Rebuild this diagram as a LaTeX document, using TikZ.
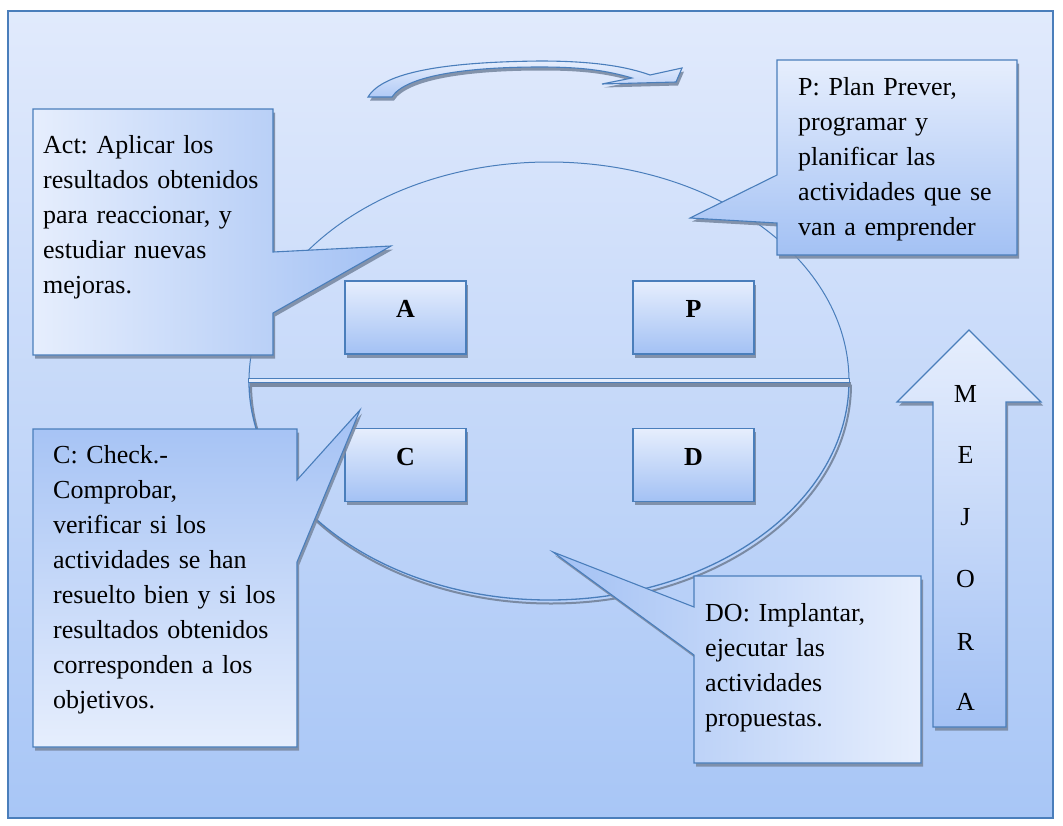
\documentclass[tikz,border=0pt]{standalone}
\usepackage{fontspec}
\setmainfont{Liberation Serif}
\usetikzlibrary{shadows}

\definecolor{bgtop}{HTML}{E1EAFC}
\definecolor{bgbot}{HTML}{A8C6F6}
\definecolor{edge}{HTML}{4A7EBB}
\definecolor{shadowgray}{HTML}{7A8AA3}
\definecolor{lite}{HTML}{E6EEFD}
\definecolor{deep}{HTML}{A3C1F4}

\tikzset{
  castshadow/.style={drop shadow={shadow xshift=2pt,shadow yshift=-3.5pt,fill=shadowgray,opacity=0.9}},
  outline/.style={draw=edge,line width=1.1pt},
  bubble/.style={outline,castshadow},
  ctext/.style={anchor=base west,inner sep=0pt,align=left,text=black,
    font=\fontsize{26}{35}\selectfont\frenchspacing},
  stagebox/.style={outline,castshadow,rectangle,inner sep=0pt,
    minimum width=121pt,minimum height=73pt,top color=lite,bottom color=deep,
    font=\fontsize{26}{30}\selectfont\bfseries,text height=18pt,text depth=18pt},
  letter/.style={anchor=base,inner sep=0pt,font=\fontsize{26}{30}\selectfont},
}

\begin{document}
\begin{tikzpicture}[x=1pt,y=-1pt]
  \useasboundingbox (0,0) rectangle (1063,825);
  \fill[white] (0,0) rectangle (1063,825);

  % frame with vertical gradient
  \draw[edge,line width=1.5pt,top color=bgtop,bottom color=bgbot] (8,11) rectangle (1053,818);

  % cycle ellipse: thin upper half, heavier lower half with shadow
  \draw[draw=edge,line width=1pt] (849,381) arc[start angle=0,end angle=-180,x radius=300,y radius=219];
  \draw[draw=shadowgray,line width=2pt] (851,384.5) arc[start angle=0,end angle=180,x radius=300,y radius=219];
  \draw[draw=edge,line width=1.3pt] (849,381) arc[start angle=0,end angle=180,x radius=300,y radius=219];

  % dividing bar
  \fill[shadowgray] (250,382) rectangle (851,386.5);
  \draw[draw=edge,line width=0.9pt,fill=lite] (248,378.5) rectangle (849,382.5);

  % curved arrow at the top
  \draw[bubble,top color=lite,bottom color=deep!80!lite]
    (368,97) .. controls (383,72) and (445,62) .. (540,61)
    .. controls (595,61) and (628,67) .. (650,75)
    -- (682,68) -- (676,82) -- (602,84) -- (632,78)
    .. controls (605,70) and (580,67) .. (540,67)
    .. controls (465,67) and (405,76) .. (392,97) -- cycle;

  % stage boxes
  \node[stagebox] (boxA) at (405.5,317.5) {A};
  \node[stagebox] (boxP) at (693.5,317.5) {P};
  \node[stagebox] (boxC) at (405.5,465) {C};
  \node[stagebox] (boxD) at (693.5,465) {D};

  % Act callout
  \draw[bubble,left color=lite,right color=deep]
    (33,109) -- (273,109) -- (273,252) -- (391,246) -- (273,313)
    -- (273,355) -- (33,355) -- cycle;
  \node[ctext,text width=232pt] (actText) at (43,153)
    {Act: Aplicar los\\resultados obtenidos\\para reaccionar, y\\estudiar nuevas\\mejoras.};

  % Plan callout
  \draw[bubble,top color=lite,bottom color=deep]
    (777,60) -- (1017,60) -- (1017,255) -- (777,255) -- (777,223)
    -- (690,218) -- (777,175) -- cycle;
  \node[ctext,text width=215pt] (planText) at (798,95)
    {P: Plan Prever,\\programar y\\planificar las\\actividades que se\\van a emprender};

  % Check callout
  \draw[bubble,top color=deep,bottom color=lite]
    (33,429) -- (297,429) -- (297,480) -- (360,410) -- (297,562)
    -- (297,747) -- (33,747) -- cycle;
  \node[ctext,text width=240pt] (checkText) at (53,463)
    {C: Check.-\\Comprobar,\\verificar si los\\actividades se han\\resuelto bien y si los\\resultados obtenidos\\corresponden a los\\objetivos.};

  % Do callout
  \draw[bubble,left color=deep,right color=lite]
    (694,576) -- (921,576) -- (921,763) -- (694,763) -- (694,655)
    -- (553,552) -- (694,607) -- cycle;
  \node[ctext,text width=210pt] (doText) at (705,621)
    {DO: Implantar,\\ejecutar las\\actividades\\propuestas.};

  % improvement arrow
  \draw[bubble,top color=lite,bottom color=deep]
    (969,330) -- (1041,402) -- (1006,402) -- (1006,727) -- (933,727)
    -- (933,402) -- (897,402) -- cycle;
  \node[letter] (mM) at (965.5,402) {M};
  \node[letter] (mE) at (965.5,463) {E};
  \node[letter] (mJ) at (965.5,525) {J};
  \node[letter] (mO) at (965.5,587) {O};
  \node[letter] (mR) at (965.5,650) {R};
  \node[letter] (mA) at (965.5,710) {A};
\end{tikzpicture}
\end{document}
